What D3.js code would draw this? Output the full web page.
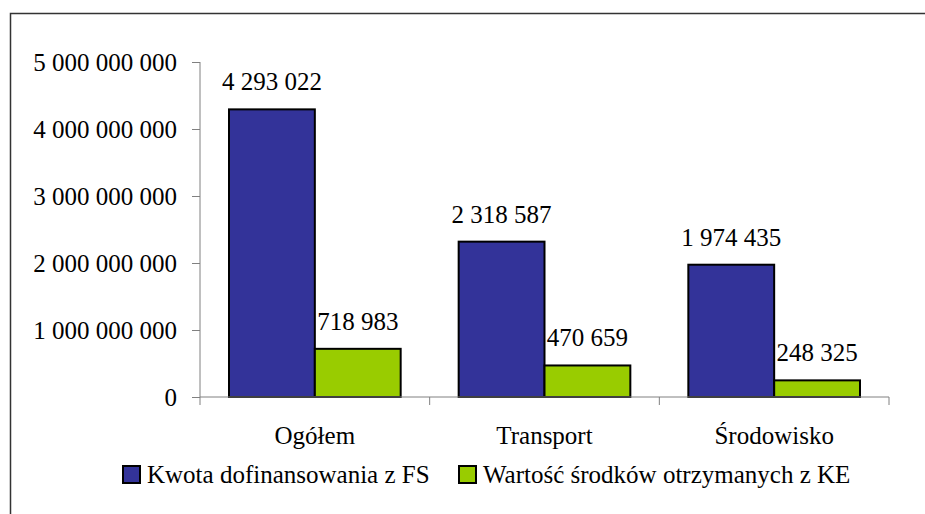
<!DOCTYPE html>
<html><head><meta charset="utf-8">
<script src="https://cdn.jsdelivr.net/npm/d3@7"></script>
<style>
html, body { margin:0; background:#fff; font-family: "Liberation Serif", "Times New Roman", serif !important; }
svg, svg text, svg g { font-family: "Liberation Serif", "Times New Roman", serif !important; }
</style>
</head><body>
<script>
const categories = ["Ogółem", "Transport", "Środowisko"];
const seriesNames = ["Kwota dofinansowania z FS", "Wartość środków otrzymanych z KE"];
const fsValues = [4293022, 2318587, 1974435];   // thousands
const keValues = [718983, 470659, 248325];      // thousands
const yTicks = [0, 1000000000, 2000000000, 3000000000, 4000000000, 5000000000];
const colors = ["#333399", "#99CC00"];

const W = 925, H = 514;
const svg = d3.select("body").append("svg").attr("width", W).attr("height", H);

// outer frame
svg.append("rect").attr("x", 10.5).attr("y", 13.5).attr("width", W).attr("height", H)
  .attr("fill", "none").attr("stroke", "#333").attr("stroke-width", 1.5);

const x0 = 200, x1 = 889, yTop = 62, yBot = 397;
const x = d3.scaleBand().domain(categories).range([x0, x1]).paddingInner(0).paddingOuter(0);
const y = d3.scaleLinear().domain([0, 5000000000]).range([yBot, yTop]);
const fmt = v => d3.format(",")(v).replace(/,/g, " ");

const series = [fsValues, keValues];
const groupPad = 29;
const barW = (x.bandwidth() - 2 * groupPad) / 2;

function txt(sel) {
  sel.style("font-family", "serif").style("font-size", "25px").attr("fill", "#000");
}

// bars
series.forEach((vals, si) => {
  svg.append("g").selectAll("rect").data(vals).join("rect")
    .attr("x", (d, i) => x(categories[i]) + groupPad + si * barW)
    .attr("y", d => y(d * 1000))
    .attr("width", barW)
    .attr("height", d => yBot - y(d * 1000))
    .attr("fill", colors[si])
    .attr("stroke", "#000").attr("stroke-width", 2);
  svg.append("g").selectAll("text").data(vals).join("text")
    .attr("x", (d, i) => x(categories[i]) + groupPad + si * barW + barW / 2)
    .attr("y", d => y(d * 1000) - 19)
    .attr("text-anchor", "middle")
    .call(txt)
    .text(d => fmt(d));
});

// y axis
const yAxis = svg.append("g").attr("transform", `translate(${x0},0)`)
  .call(d3.axisLeft(y).tickValues(yTicks).tickSize(8).tickPadding(15).tickFormat(fmt));
yAxis.attr("font-family", null).attr("font-size", null);
yAxis.select(".domain").attr("stroke", "#808080").attr("d", `M0,${yTop}V${yBot + 8}`);
yAxis.selectAll(".tick line").attr("stroke", "#808080");
yAxis.selectAll(".tick text").call(txt).attr("dy", "0.35em");

// x axis
const xAxis = svg.append("g").attr("transform", `translate(0,${yBot})`);
xAxis.append("line").attr("x1", x0).attr("x2", x1).attr("stroke", "#808080");
const bounds = categories.map(c => x(c)).concat([x1]);
xAxis.selectAll("line.tk").data(bounds.slice(1)).join("line").attr("class", "tk")
  .attr("x1", d => d).attr("x2", d => d).attr("y1", 0).attr("y2", 8).attr("stroke", "#808080");
xAxis.selectAll("text").data(categories).join("text")
  .attr("x", d => x(d) + x.bandwidth() / 2).attr("y", 47)
  .attr("text-anchor", "middle").call(txt).text(d => d);

// legend
const leg = svg.append("g");
const legItems = [{x: 123, tx: 147}, {x: 459, tx: 483}];
seriesNames.forEach((n, i) => {
  leg.append("rect").attr("x", legItems[i].x).attr("y", 466).attr("width", 17).attr("height", 17)
    .attr("fill", colors[i]).attr("stroke", "#000").attr("stroke-width", 2);
  leg.append("text").attr("x", legItems[i].tx).attr("y", 483).call(txt).text(n);
});
</script>
</body></html>
